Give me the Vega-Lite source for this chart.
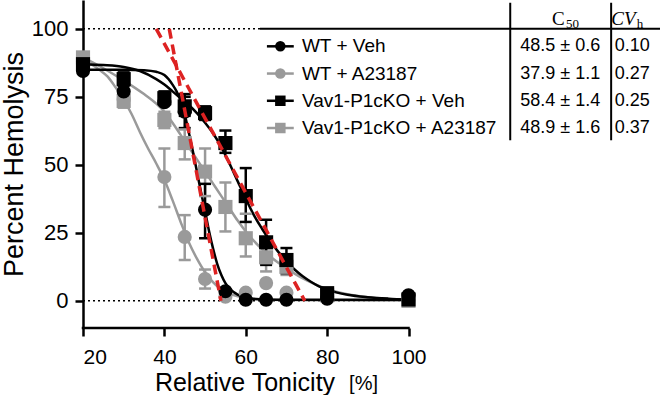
{
  "$schema": "https://vega.github.io/schema/vega-lite/v6.json",
  "width": 579,
  "height": 328,
  "padding": 0,
  "background": "white",
  "config": {
    "view": {"stroke": null},
    "font": "Liberation Sans",
    "axis": {
      "grid": false,
      "domainColor": "#000",
      "domainWidth": 2.5,
      "tickColor": "#000",
      "tickWidth": 2.5,
      "tickSize": 8,
      "labelColor": "#000",
      "titleColor": "#000",
      "titleFontWeight": "normal",
      "labelFont": "Liberation Sans",
      "titleFont": "Liberation Sans"
    }
  },
  "datasets": {
    "curves": [
      {"s": "WT + A23187", "x": 20, "y": 88.5}, {"s": "WT + A23187", "x": 22, "y": 87}, {"s": "WT + A23187", "x": 24, "y": 85}, {"s": "WT + A23187", "x": 26, "y": 82.5}, {"s": "WT + A23187", "x": 28, "y": 78.5}, {"s": "WT + A23187", "x": 30, "y": 74}, {"s": "WT + A23187", "x": 32, "y": 68.5}, {"s": "WT + A23187", "x": 34, "y": 62}, {"s": "WT + A23187", "x": 36, "y": 56}, {"s": "WT + A23187", "x": 38, "y": 50.5}, {"s": "WT + A23187", "x": 40, "y": 44.5}, {"s": "WT + A23187", "x": 42, "y": 37}, {"s": "WT + A23187", "x": 44, "y": 29}, {"s": "WT + A23187", "x": 46, "y": 21.5}, {"s": "WT + A23187", "x": 48, "y": 15.5}, {"s": "WT + A23187", "x": 50, "y": 10.5}, {"s": "WT + A23187", "x": 52, "y": 6.8}, {"s": "WT + A23187", "x": 54, "y": 4.2}, {"s": "WT + A23187", "x": 56, "y": 2.6}, {"s": "WT + A23187", "x": 58, "y": 1.7}, {"s": "WT + A23187", "x": 60, "y": 1.1}, {"s": "WT + A23187", "x": 65, "y": 0.5}, {"s": "WT + A23187", "x": 70, "y": 0.3}, {"s": "WT + A23187", "x": 80, "y": 0.2}, {"s": "WT + A23187", "x": 90, "y": 0.1}, {"s": "WT + A23187", "x": 100, "y": 0.1},
      {"s": "Vav1-P1cKO + A23187", "x": 20, "y": 89.5}, {"s": "Vav1-P1cKO + A23187", "x": 25, "y": 85.5}, {"s": "Vav1-P1cKO + A23187", "x": 30, "y": 81}, {"s": "Vav1-P1cKO + A23187", "x": 35, "y": 76}, {"s": "Vav1-P1cKO + A23187", "x": 38, "y": 72.5}, {"s": "Vav1-P1cKO + A23187", "x": 40, "y": 69.5}, {"s": "Vav1-P1cKO + A23187", "x": 42, "y": 65.5}, {"s": "Vav1-P1cKO + A23187", "x": 44, "y": 61}, {"s": "Vav1-P1cKO + A23187", "x": 46, "y": 56.5}, {"s": "Vav1-P1cKO + A23187", "x": 48, "y": 52}, {"s": "Vav1-P1cKO + A23187", "x": 50, "y": 47.5}, {"s": "Vav1-P1cKO + A23187", "x": 52, "y": 43}, {"s": "Vav1-P1cKO + A23187", "x": 54, "y": 38.5}, {"s": "Vav1-P1cKO + A23187", "x": 56, "y": 34}, {"s": "Vav1-P1cKO + A23187", "x": 58, "y": 29.5}, {"s": "Vav1-P1cKO + A23187", "x": 60, "y": 25.5}, {"s": "Vav1-P1cKO + A23187", "x": 62, "y": 22}, {"s": "Vav1-P1cKO + A23187", "x": 64, "y": 19}, {"s": "Vav1-P1cKO + A23187", "x": 66, "y": 16.3}, {"s": "Vav1-P1cKO + A23187", "x": 68, "y": 14}, {"s": "Vav1-P1cKO + A23187", "x": 70, "y": 12}, {"s": "Vav1-P1cKO + A23187", "x": 72, "y": 10}, {"s": "Vav1-P1cKO + A23187", "x": 75, "y": 7.5}, {"s": "Vav1-P1cKO + A23187", "x": 80, "y": 4.3}, {"s": "Vav1-P1cKO + A23187", "x": 85, "y": 2.4}, {"s": "Vav1-P1cKO + A23187", "x": 90, "y": 1.3}, {"s": "Vav1-P1cKO + A23187", "x": 95, "y": 0.7}, {"s": "Vav1-P1cKO + A23187", "x": 100, "y": 0.4},
      {"s": "Vav1-P1cKO + Veh", "x": 20, "y": 87}, {"s": "Vav1-P1cKO + Veh", "x": 25, "y": 86.7}, {"s": "Vav1-P1cKO + Veh", "x": 30, "y": 86}, {"s": "Vav1-P1cKO + Veh", "x": 34, "y": 84.5}, {"s": "Vav1-P1cKO + Veh", "x": 38, "y": 81.5}, {"s": "Vav1-P1cKO + Veh", "x": 40, "y": 79.5}, {"s": "Vav1-P1cKO + Veh", "x": 42, "y": 77}, {"s": "Vav1-P1cKO + Veh", "x": 44, "y": 74.5}, {"s": "Vav1-P1cKO + Veh", "x": 46, "y": 72}, {"s": "Vav1-P1cKO + Veh", "x": 48, "y": 69}, {"s": "Vav1-P1cKO + Veh", "x": 50, "y": 65.5}, {"s": "Vav1-P1cKO + Veh", "x": 52, "y": 61.5}, {"s": "Vav1-P1cKO + Veh", "x": 54, "y": 56.5}, {"s": "Vav1-P1cKO + Veh", "x": 56, "y": 50.5}, {"s": "Vav1-P1cKO + Veh", "x": 58, "y": 44}, {"s": "Vav1-P1cKO + Veh", "x": 60, "y": 37.5}, {"s": "Vav1-P1cKO + Veh", "x": 62, "y": 31.5}, {"s": "Vav1-P1cKO + Veh", "x": 64, "y": 26.5}, {"s": "Vav1-P1cKO + Veh", "x": 66, "y": 22}, {"s": "Vav1-P1cKO + Veh", "x": 68, "y": 18}, {"s": "Vav1-P1cKO + Veh", "x": 70, "y": 14.5}, {"s": "Vav1-P1cKO + Veh", "x": 72, "y": 11.5}, {"s": "Vav1-P1cKO + Veh", "x": 74, "y": 9}, {"s": "Vav1-P1cKO + Veh", "x": 76, "y": 7}, {"s": "Vav1-P1cKO + Veh", "x": 78, "y": 5.3}, {"s": "Vav1-P1cKO + Veh", "x": 80, "y": 4.1}, {"s": "Vav1-P1cKO + Veh", "x": 85, "y": 2.2}, {"s": "Vav1-P1cKO + Veh", "x": 90, "y": 1.3}, {"s": "Vav1-P1cKO + Veh", "x": 95, "y": 0.8}, {"s": "Vav1-P1cKO + Veh", "x": 100, "y": 0.5},
      {"s": "WT + Veh", "x": 20, "y": 85}, {"s": "WT + Veh", "x": 25, "y": 85}, {"s": "WT + Veh", "x": 30, "y": 85}, {"s": "WT + Veh", "x": 35, "y": 84.8}, {"s": "WT + Veh", "x": 38, "y": 84.2}, {"s": "WT + Veh", "x": 40, "y": 83}, {"s": "WT + Veh", "x": 42, "y": 79.5}, {"s": "WT + Veh", "x": 43, "y": 77}, {"s": "WT + Veh", "x": 44, "y": 73.5}, {"s": "WT + Veh", "x": 45, "y": 68.5}, {"s": "WT + Veh", "x": 46, "y": 62}, {"s": "WT + Veh", "x": 47, "y": 55}, {"s": "WT + Veh", "x": 48, "y": 47.5}, {"s": "WT + Veh", "x": 49, "y": 40}, {"s": "WT + Veh", "x": 50, "y": 33}, {"s": "WT + Veh", "x": 51, "y": 25.5}, {"s": "WT + Veh", "x": 52, "y": 19}, {"s": "WT + Veh", "x": 53, "y": 13.5}, {"s": "WT + Veh", "x": 54, "y": 9.5}, {"s": "WT + Veh", "x": 55, "y": 6.5}, {"s": "WT + Veh", "x": 56, "y": 4.5}, {"s": "WT + Veh", "x": 57, "y": 3.2}, {"s": "WT + Veh", "x": 58, "y": 2.3}, {"s": "WT + Veh", "x": 60, "y": 1.2}, {"s": "WT + Veh", "x": 62, "y": 0.7}, {"s": "WT + Veh", "x": 65, "y": 0.5}, {"s": "WT + Veh", "x": 70, "y": 0.4}, {"s": "WT + Veh", "x": 80, "y": 0.4}, {"s": "WT + Veh", "x": 100, "y": 0.4}
    ],
    "points": [
      {"s": "WT + A23187", "x": 20, "y": 88}, {"s": "WT + A23187", "x": 30, "y": 74, "lo": 72, "hi": 76}, {"s": "WT + A23187", "x": 40, "y": 45.5, "lo": 34.5, "hi": 56}, {"s": "WT + A23187", "x": 45, "y": 23.5, "lo": 15, "hi": 31.5}, {"s": "WT + A23187", "x": 50, "y": 8, "lo": 4.5, "hi": 11.5}, {"s": "WT + A23187", "x": 55, "y": 1.5}, {"s": "WT + A23187", "x": 60, "y": 3}, {"s": "WT + A23187", "x": 65, "y": 6.5}, {"s": "WT + A23187", "x": 70, "y": 3}, {"s": "WT + A23187", "x": 80, "y": 1.5}, {"s": "WT + A23187", "x": 100, "y": 0.3},
      {"s": "Vav1-P1cKO + A23187", "x": 20, "y": 89.5}, {"s": "Vav1-P1cKO + A23187", "x": 30, "y": 73.5, "lo": 71, "hi": 76}, {"s": "Vav1-P1cKO + A23187", "x": 40, "y": 66.5, "lo": 63.5, "hi": 69.5}, {"s": "Vav1-P1cKO + A23187", "x": 45, "y": 58, "lo": 52, "hi": 63}, {"s": "Vav1-P1cKO + A23187", "x": 50, "y": 47.5, "lo": 38.5, "hi": 56}, {"s": "Vav1-P1cKO + A23187", "x": 55, "y": 34.5, "lo": 25.5, "hi": 43.5}, {"s": "Vav1-P1cKO + A23187", "x": 60, "y": 23, "lo": 16.3, "hi": 32}, {"s": "Vav1-P1cKO + A23187", "x": 65, "y": 16, "lo": 10.8, "hi": 20}, {"s": "Vav1-P1cKO + A23187", "x": 70, "y": 12.5, "lo": 9.5, "hi": 15.5}, {"s": "Vav1-P1cKO + A23187", "x": 80, "y": 2}, {"s": "Vav1-P1cKO + A23187", "x": 100, "y": 0},
      {"s": "Vav1-P1cKO + Veh", "x": 20, "y": 87}, {"s": "Vav1-P1cKO + Veh", "x": 30, "y": 81.5, "lo": 79, "hi": 84}, {"s": "Vav1-P1cKO + Veh", "x": 40, "y": 74.5, "lo": 72, "hi": 77}, {"s": "Vav1-P1cKO + Veh", "x": 45, "y": 71.5, "lo": 68, "hi": 75}, {"s": "Vav1-P1cKO + Veh", "x": 50, "y": 69, "lo": 66.5, "hi": 71.5}, {"s": "Vav1-P1cKO + Veh", "x": 55, "y": 58, "lo": 54.4, "hi": 62.6}, {"s": "Vav1-P1cKO + Veh", "x": 60, "y": 38.5, "lo": 29, "hi": 48.8}, {"s": "Vav1-P1cKO + Veh", "x": 65, "y": 21.5, "lo": 13.2, "hi": 29.8}, {"s": "Vav1-P1cKO + Veh", "x": 70, "y": 15, "lo": 10.2, "hi": 19.4}, {"s": "Vav1-P1cKO + Veh", "x": 80, "y": 2.8, "lo": 1.5, "hi": 4.2}, {"s": "Vav1-P1cKO + Veh", "x": 100, "y": 0.5},
      {"s": "WT + Veh", "x": 20, "y": 84.5}, {"s": "WT + Veh", "x": 30, "y": 77}, {"s": "WT + Veh", "x": 40, "y": 73}, {"s": "WT + Veh", "x": 45, "y": 69.5, "lo": 63.5, "hi": 76}, {"s": "WT + Veh", "x": 50, "y": 33.5, "lo": 23, "hi": 43}, {"s": "WT + Veh", "x": 55, "y": 3.5}, {"s": "WT + Veh", "x": 60, "y": 0.4}, {"s": "WT + Veh", "x": 65, "y": 0.4}, {"s": "WT + Veh", "x": 70, "y": 0.4}, {"s": "WT + Veh", "x": 80, "y": 0.8}, {"s": "WT + Veh", "x": 100, "y": 2}
    ],
    "tangents": [
      {"t": "WT + Veh", "x": 41.2, "y": 100}, {"t": "WT + Veh", "x": 53.9, "y": 0},
      {"t": "Vav1-P1cKO + Veh", "x": 38, "y": 100}, {"t": "Vav1-P1cKO + Veh", "x": 74.5, "y": 0}
    ],
    "table": [
      {"s": "WT + Veh", "row": 1, "c50": "48.5 ± 0.6", "cv": "0.10"},
      {"s": "WT + A23187", "row": 2, "c50": "37.9 ± 1.1", "cv": "0.27"},
      {"s": "Vav1-P1cKO + Veh", "row": 3, "c50": "58.4 ± 1.4", "cv": "0.25"},
      {"s": "Vav1-P1cKO + A23187", "row": 4, "c50": "48.9 ± 1.6", "cv": "0.37"}
    ]
  },
  "resolve": {"scale": {"y": "independent"}},
  "layer": [
    {
      "layer": [
        {
          "data": {"values": [{}]},
          "mark": {"type": "rule", "strokeDash": [2, 3], "strokeWidth": 1.5, "color": "#000"},
          "encoding": {
            "x": {"datum": 20, "type": "quantitative", "scale": {"domain": [20, 162.3], "nice": false, "zero": false},
              "axis": {"values": [20, 40, 60, 80, 100], "domain": false, "labelFontSize": 21, "labelPadding": 10, "title": "Relative Tonicity", "titleFontSize": 25, "titleX": 161.5, "titleY": 62, "titleBaseline": "alphabetic", "titleAlign": "center", "titleAnchor": null}},
            "x2": {"datum": 63.5},
            "y": {"datum": 100, "type": "quantitative", "scale": {"domain": [-10, 110.6], "nice": false, "zero": false},
              "axis": {"values": [0, 25, 50, 75, 100], "labelFontSize": 22, "labelPadding": 7, "title": "Percent Hemolysis", "titleFontSize": 27, "titlePadding": 3}}
          }
        },
        {
          "data": {"values": [{}]},
          "mark": {"type": "rule", "strokeDash": [2, 3], "strokeWidth": 1.5, "color": "#000"},
          "encoding": {"x": {"datum": 20}, "x2": {"datum": 100}, "y": {"datum": 0}}
        },
        {
          "data": {"values": [{}]},
          "mark": {"type": "rule", "strokeWidth": 2, "color": "#000"},
          "encoding": {"x": {"datum": 63.5}, "x2": {"datum": 162.3}, "y": {"datum": 100}}
        },
        {
          "data": {"values": [{}]},
          "mark": {"type": "rule", "strokeWidth": 2.5, "color": "#000", "strokeCap": "square"},
          "encoding": {"x": {"datum": 20}, "x2": {"datum": 100}, "y": {"datum": -10}}
        },
        {
          "data": {"name": "curves"},
          "mark": {"type": "line", "strokeWidth": 2.5, "interpolate": "monotone"},
          "encoding": {
            "x": {"field": "x", "type": "quantitative"},
            "y": {"field": "y", "type": "quantitative"},
            "color": {"field": "s", "type": "nominal", "legend": null,
              "scale": {"domain": ["WT + Veh", "WT + A23187", "Vav1-P1cKO + Veh", "Vav1-P1cKO + A23187"], "range": ["#000000", "#9a9a9a", "#000000", "#9a9a9a"]}},
            "order": {"field": "x", "type": "quantitative"}
          }
        },
        {
          "data": {"name": "points"},
          "mark": {"type": "rule", "strokeWidth": 2.5},
          "encoding": {
            "x": {"field": "x", "type": "quantitative"},
            "y": {"field": "lo", "type": "quantitative"},
            "y2": {"field": "hi"},
            "color": {"field": "s", "type": "nominal", "legend": null}
          }
        },
        {
          "data": {"name": "points"},
          "mark": {"type": "tick", "orient": "horizontal", "size": 12, "thickness": 2.5, "opacity": 1},
          "encoding": {
            "x": {"field": "x", "type": "quantitative"},
            "y": {"field": "lo", "type": "quantitative"},
            "color": {"field": "s", "type": "nominal", "legend": null}
          }
        },
        {
          "data": {"name": "points"},
          "mark": {"type": "tick", "orient": "horizontal", "size": 12, "thickness": 2.5, "opacity": 1},
          "encoding": {
            "x": {"field": "x", "type": "quantitative"},
            "y": {"field": "hi", "type": "quantitative"},
            "color": {"field": "s", "type": "nominal", "legend": null}
          }
        },
        {
          "data": {"name": "points"},
          "mark": {"type": "point", "filled": true, "opacity": 1, "size": 200},
          "encoding": {
            "x": {"field": "x", "type": "quantitative"},
            "y": {"field": "y", "type": "quantitative"},
            "color": {"field": "s", "type": "nominal", "legend": null},
            "shape": {"field": "s", "type": "nominal", "legend": null,
              "scale": {"domain": ["WT + Veh", "WT + A23187", "Vav1-P1cKO + Veh", "Vav1-P1cKO + A23187"], "range": ["circle", "circle", "square", "square"]}}
          }
        },
        {
          "data": {"name": "tangents"},
          "mark": {"type": "line", "strokeWidth": 3.5, "strokeDash": [10, 6], "color": "#dd2222"},
          "encoding": {
            "x": {"field": "x", "type": "quantitative"},
            "y": {"field": "y", "type": "quantitative"},
            "detail": {"field": "t", "type": "nominal"}
          }
        },
        {
          "data": {"values": [{}]},
          "mark": {"type": "text", "text": "[%]", "fontSize": 20, "align": "left", "baseline": "alphabetic", "color": "#000"},
          "encoding": {"x": {"datum": 85.4}, "y": {"datum": -32.7}}
        }
      ]
    },
    {
      "layer": [
        {
          "data": {"name": "table"},
          "mark": {"type": "rule", "strokeWidth": 2.5},
          "encoding": {
            "x": {"datum": 65.2},
            "x2": {"datum": 71.8},
            "y": {"field": "row", "type": "quantitative", "axis": null, "scale": {"domain": [-0.701, 11.344], "reverse": true, "nice": false, "zero": false}},
            "color": {"field": "s", "type": "nominal", "legend": null}
          }
        },
        {
          "data": {"name": "table"},
          "mark": {"type": "point", "filled": true, "opacity": 1, "size": 110},
          "encoding": {
            "x": {"datum": 68.5},
            "y": {"field": "row", "type": "quantitative"},
            "color": {"field": "s", "type": "nominal", "legend": null},
            "shape": {"field": "s", "type": "nominal", "legend": null}
          }
        },
        {
          "data": {"name": "table"},
          "mark": {"type": "text", "align": "left", "baseline": "middle", "fontSize": 19, "color": "#000"},
          "encoding": {"x": {"datum": 73.8}, "y": {"field": "row", "type": "quantitative"}, "text": {"field": "s"}}
        },
        {
          "data": {"name": "table"},
          "mark": {"type": "text", "align": "center", "baseline": "middle", "fontSize": 18, "color": "#000"},
          "encoding": {"x": {"datum": 137.3}, "y": {"field": "row", "type": "quantitative"}, "text": {"field": "c50"}}
        },
        {
          "data": {"name": "table"},
          "mark": {"type": "text", "align": "center", "baseline": "middle", "fontSize": 18, "color": "#000"},
          "encoding": {"x": {"datum": 155}, "y": {"field": "row", "type": "quantitative"}, "text": {"field": "cv"}}
        },
        {
          "data": {"values": [{}]},
          "mark": {"type": "text", "text": "C", "align": "right", "baseline": "middle", "fontSize": 19, "font": "Liberation Serif", "color": "#000"},
          "encoding": {"x": {"datum": 138.4}, "y": {"datum": 0}}
        },
        {
          "data": {"values": [{}]},
          "mark": {"type": "text", "text": "50", "align": "left", "baseline": "middle", "fontSize": 13, "dy": 5, "font": "Liberation Serif", "color": "#000"},
          "encoding": {"x": {"datum": 138.7}, "y": {"datum": 0}}
        },
        {
          "data": {"values": [{}]},
          "mark": {"type": "text", "text": "CV", "align": "right", "baseline": "middle", "fontSize": 19, "fontStyle": "italic", "font": "Liberation Serif", "color": "#000"},
          "encoding": {"x": {"datum": 155.8}, "y": {"datum": 0}}
        },
        {
          "data": {"values": [{}]},
          "mark": {"type": "text", "text": "h", "align": "left", "baseline": "middle", "fontSize": 13, "dy": 5, "font": "Liberation Serif", "color": "#000"},
          "encoding": {"x": {"datum": 156.1}, "y": {"datum": 0}}
        },
        {
          "data": {"values": [{}]},
          "mark": {"type": "rule", "strokeWidth": 2, "color": "#000"},
          "encoding": {"x": {"datum": 125}, "y": {"datum": -0.6}, "y2": {"datum": 4.45}}
        },
        {
          "data": {"values": [{}]},
          "mark": {"type": "rule", "strokeWidth": 2, "color": "#000"},
          "encoding": {"x": {"datum": 149.8}, "y": {"datum": -0.6}, "y2": {"datum": 4.45}}
        }
      ]
    }
  ]
}
